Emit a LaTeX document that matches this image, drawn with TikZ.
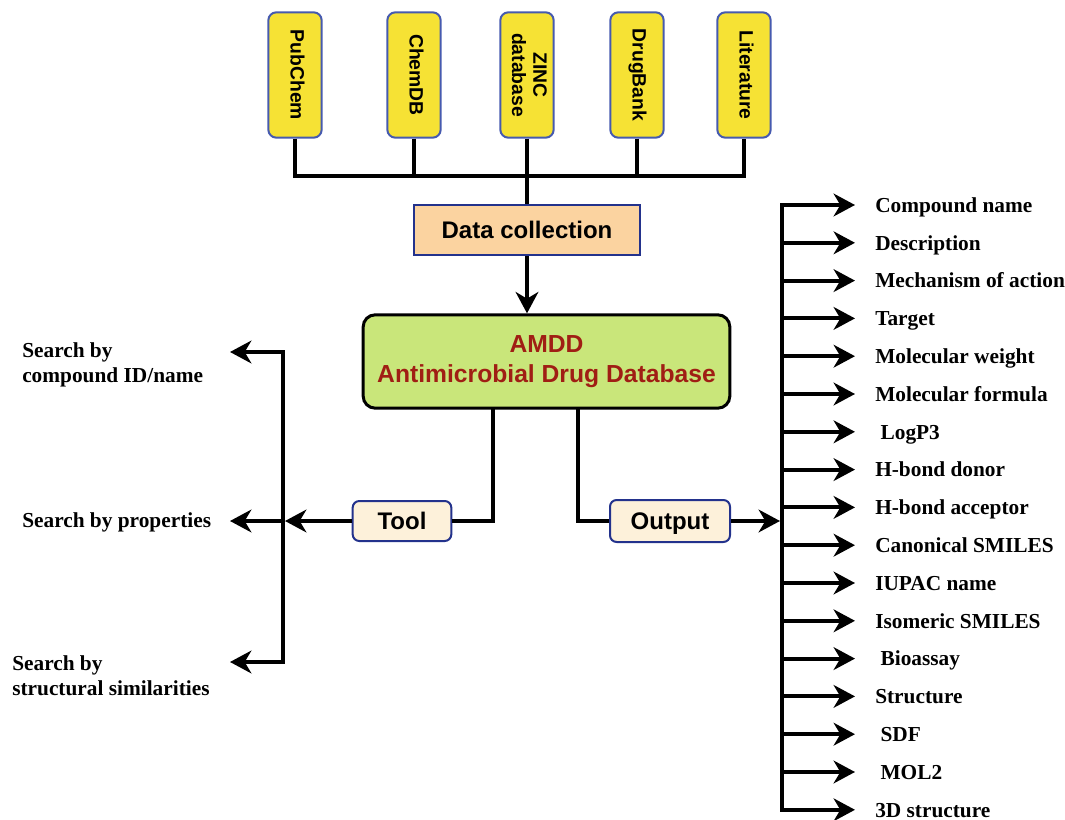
\documentclass[tikz,border=0pt]{standalone}
\usepackage{fontspec}
\usepackage{graphicx}
\setmainfont{Liberation Serif}
\newfontfamily\cajafont{Liberation Sans}
\usetikzlibrary{arrows.meta}
\definecolor{amarillo}{RGB}{246,226,52}
\definecolor{bordeazul}{RGB}{70,90,175}
\definecolor{azuloscuro}{RGB}{35,50,140}
\definecolor{durazno}{RGB}{251,211,160}
\definecolor{verde}{RGB}{201,230,122}
\definecolor{rojooscuro}{RGB}{160,30,20}
\definecolor{crema}{RGB}{253,241,218}
\newcommand{\girar}[1]{\rotatebox{-90}{\begin{tabular}{@{}c@{}}#1\end{tabular}}}
\tikzset{
  fuente/.style={draw=bordeazul, line width=1.5pt, fill=amarillo, rounded corners=6pt,
    minimum width=40pt, minimum height=94pt, inner sep=0pt,
    font=\cajafont\bfseries\fontsize{14.5}{16}\selectfont},
  recoleccion/.style={draw=azuloscuro, line width=1.5pt, fill=durazno,
    minimum width=169pt, minimum height=38pt, text height=13pt, text depth=0pt,
    font=\cajafont\bfseries\fontsize{18}{20}\selectfont},
  basedatos/.style={draw=black, line width=2.25pt, fill=verde, rounded corners=9pt,
    minimum width=275pt, minimum height=70pt, align=center, text=rojooscuro,
    font=\cajafont\bfseries\fontsize{18.5}{22}\selectfont},
  caja/.style={draw=azuloscuro, line width=1.5pt, fill=crema, rounded corners=5pt,
    minimum width=74pt, minimum height=30pt, text height=13pt, text depth=0pt,
    font=\cajafont\bfseries\fontsize{18}{20}\selectfont},
  etiqueta/.style={inner sep=0pt, align=left, font=\bfseries\fontsize{16}{18.5}\selectfont},
  linea/.style={line width=3pt},
  flecha/.style={line width=3pt, -{Stealth[length=16pt,width=17pt,inset=5pt]}},
}
\begin{document}
\begin{tikzpicture}[x=0.75pt, y=-0.75pt]
  \useasboundingbox (0,0) rectangle (1065,820);
  % Fuentes de datos
  \node[fuente] (pubchem) at (295,75) {\girar{PubChem}};
  \node[fuente] (chemdb) at (414,75) {\girar{ChemDB}};
  \node[fuente] (zinc) at (527,75) {\girar{ZINC\\database}};
  \node[fuente] (drugbank) at (637,75) {\girar{DrugBank}};
  \node[fuente] (literatura) at (744,75) {\girar{Literature}};
  % Recolección
  \node[recoleccion] (datos) at (527,230) {Data collection};
  \coordinate (bus) at (527,176);
  \draw[linea] (pubchem.south) |- (bus) -| (literatura.south);
  \draw[linea] (chemdb.south) -- (chemdb.south |- bus);
  \draw[linea] (drugbank.south) -- (drugbank.south |- bus);
  \draw[linea] (zinc.south) -- (datos.north);
  % Base de datos
  \node[basedatos] (amdd) at (546.5,361.5) {AMDD\\Antimicrobial Drug Database};
  \draw[flecha] (datos.south) -- (datos.south |- amdd.north);
  % Herramienta y salida
  \coordinate (amddI) at (493,408);
  \coordinate (amddD) at (578,408);
  \node[caja] (tool) at (402,521) {Tool};
  \node[caja, minimum width=90pt, minimum height=31.5pt] (output) at (670,521) {Output};
  \draw[linea] (amddI) |- (tool.east);
  \draw[linea] (amddD) |- (output.west);
  % Búsquedas
  \coordinate (barraI) at (283,521);
  \coordinate (f1) at (230,352);
  \coordinate (f2) at (230,521);
  \coordinate (f3) at (230,662);
  \draw[flecha, shorten >=1.5pt] (tool.west) -- (barraI);
  \draw[flecha] (barraI) |- (f1);
  \draw[flecha] (barraI) -- (f2);
  \draw[flecha] (barraI) |- (f3);
  \node[etiqueta, anchor=west] (buscar1) at (22,365) {Search by\\compound ID/name};
  \node[etiqueta, anchor=west] (buscar2) at (22,522) {Search by properties};
  \node[etiqueta, anchor=west] (buscar3) at (12,676) {Search by\\structural similarities};
  % Salidas
  \coordinate (barraD) at (782,521);
  \draw[flecha, shorten >=1.5pt] (output.east) -- (barraD);
  \foreach \t [count=\i] in {Compound name, Description, Mechanism of action, Target,
      Molecular weight, Molecular formula, \ LogP3, H-bond donor, H-bond acceptor,
      Canonical SMILES, IUPAC name, Isomeric SMILES, \ Bioassay, Structure, \ SDF,
      \ MOL2, 3D structure} {
    \node[etiqueta, anchor=west, text height=11pt, text depth=0pt] (o\i) at (875,{205+37.8*(\i-1)}) {\t};
    \draw[flecha] (barraD) |- ([xshift=-15pt]o\i.west);
  }
\end{tikzpicture}
\end{document}
